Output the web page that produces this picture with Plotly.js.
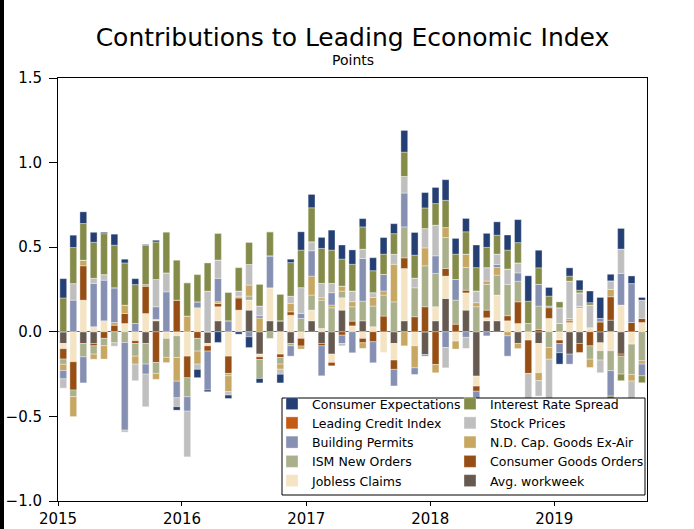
<!DOCTYPE html>
<html>
<head>
<meta charset="utf-8">
<script src="https://cdn.plot.ly/plotly-3.0.1.min.js"></script>
<style>html,body{margin:0;padding:0;background:#fff;}#chart{width:694px;height:529px;}</style>
</head>
<body>
<div id="chart"></div>
<script>
// Months: Jan 2015 .. Sep 2019 (57 months)
const months = [];
for (let i = 0; i < 57; i++) {
  const y = 2015 + Math.floor(i / 12);
  const m = (i % 12) + 1;
  months.push(y + '-' + (m < 10 ? '0' + m : m) + '-01');
}
const yTicks = [-1.0, -0.5, 0.0, 0.5, 1.0, 1.5];

// Series values (points), stacked from zero outward in this order
const avgWorkweek = [-0.069,0,-0.069,-0.069,0,0,0,0,-0.069,0.065, 0,0,0,0,-0.069,0.065,0,0,0.128,-0.132, 0.065,0.065,-0.069,0,0.065,-0.069,-0.132,0.128,0,0.065, 0,0,-0.069,0.065,0,-0.134,0.065,0.197,0,0.128, -0.262,0.065,0.065,0,-0.069,0,-0.069,0,0,-0.132, -0.069,0,-0.065,0.069,-0.132,0,0];
const joblessClaims = [-0.031,-0.177,0.187,0.03,0.065,0,0.049,-0.053,0.108,0.008, -0.039,-0.024,-0.144,0.142,-0.014,0.083,-0.144,0.128,0.059,-0.016, 0.195,-0.132,0.098,-0.039,0.063,0.02,-0.049,0.073,0.035,-0.039, 0.03,-0.122,-0.098,0.309,-0.083,0,0.083,0.132,-0.055,0.102, -0.059,0.018,0.152,0.065,0.049,-0.049,-0.173,0.079,-0.049,0.055, 0.14,0.024,-0.047,-0.112,0.158,-0.073,0.055];
const consumerGoodsOrders = [-0.061,-0.167,0.203,-0.014,-0.039,0.039,0.059,-0.016,0.161,-0.181, 0,0.187,-0.128,-0.039,-0.031,0.02,-0.102,0.073,0,-0.016, 0,-0.02,0.02,-0.045,0,-0.014,-0.02,-0.02,0.028,-0.026, -0.059,0.093,-0.055,0.063,0.089,0.148,-0.193,0.045,0.045,0.016, -0.03,0.045,0,0.03,0.128,-0.197,0.014,0.063,-0.02,0.01, -0.053,-0.083,0.059,0.138,-0.012,0.055,0.024];
const ismNewOrders = [-0.031,-0.039,-0.079,-0.049,-0.043,-0.065,-0.063,-0.075,-0.122,-0.065, -0.112,-0.128,-0.112,-0.075,0,0,-0.014,0,0.024,-0.112, -0.039,-0.039,-0.014,0.079,0.089,0.167,0.142,0.039,0.085,0.116, 0.122,0.124,0.177,0.183,0.171,0.242,0.197,0.183,0.142,0.134, 0.148,0.152,0.118,0.185,0.122,0.049,0.138,-0.093,0.049,0, 0,-0.079,-0.055,-0.118,-0.106,-0.179,-0.171];
const ndCapGoods = [-0.037,-0.118,0.033,-0.03,-0.079,0.016,0.049,-0.047,0.01,-0.035, -0.031,-0.14,0.093,-0.077,0,0.01,-0.094,0.01,0.065,0.081, 0,-0.03,0.049,-0.018,0.112,0.014,0.016,0.03,0.03,-0.033, 0.051,0.024,0.222,-0.083,-0.13,0.106,-0.049,0.059,-0.047,0.079, 0.024,0.02,0.045,-0.024,-0.03,0,-0.047,-0.069,0,0.014, 0.01,-0.049,0,0.043,0,-0.039,-0.02];
const buildingPermits = [-0.049,0.187,-0.154,0.256,0.24,0.205,-0.518,0.049,-0.059,0.075, 0.236,-0.098,-0.085,0.035,-0.23,0.138,0.065,0,-0.03,0.014, 0.189,0,-0.061,0.03,0.15,-0.177,0.073,-0.049,-0.124,0.252, -0.124,0.098,-0.098,0.2,-0.039,-0.01,0.104,-0.093,0.122,-0.033, -0.142,-0.024,0.018,-0.12,0.049,0,0.128,0.01,-0.055,-0.059, 0,0,0.02,-0.15,0.187,0.23,-0.069];
const stockPrices = [-0.055,0.098,0,0.03,0.033,-0.02,-0.012,-0.098,-0.193,0.161, 0.112,-0.053,-0.27,-0.031,0.24,0.108,-0.02,0.03,0.122,0.057, 0,-0.03,0.043,0.152,0.053,0.085,0.055,-0.014,0.063,0.055, 0.028,0,0.059,0.098,0.057,0.114,0.181,-0.12,0,-0.065, 0.069,0.079,0.061,0.091,0.059,-0.161,-0.091,-0.232,0.093,0.22, 0.08,0.134,-0.075,0.051,0.144,-0.138,0.108];
const leadingCreditIndex = [0,0,0,0,0,0,0,0,0,0, 0,0,0,0,0,0,0,0,0,0, 0,0,0,0,0,0,0,0,0,0, 0,0,0,0,0,0,0,0,0,0, 0,0,0,0,0,0,0,0,0,0, 0,0,0,0,0,0,0];
const interestRateSpread = [0.20,0.213,0.217,0.213,0.242,0.252,0.25,0.23,0.232,0.222, 0.242,0.236,0.197,0.161,0.167,0.157,0.167,0.138,0.13,0.128, 0.142,0.156,0.199,0.222,0.201,0.207,0.197,0.16,0.158,0.132, 0.13,0.12,0.122,0.144,0.136,0.122,0.128,0.161,0.15,0.132, 0.138,0.12,0.112,0.112,0.12,0.132,0.098,0.059,0.035,0.03, 0.016,0.014,0,-0.043,-0.039,-0.053,-0.041];
const consumerExpectations = [0.114,0.073,0.069,0.059,0.008,0.065,0.022,0.035,0.005,0.01, 0,-0.02,0,-0.049,-0.01,-0.063,-0.02,-0.014,-0.063,-0.026, 0,-0.051,0.02,0.108,0.079,0.065,0.118,0.083,0.085,0.049, 0.077,0.098,0.059,0.128,0.134,0.091,0.095,0.122,0.093,0.079, 0.134,0.083,0.079,0.089,0.136,0.15,0.104,0.051,-0.067,0.049, 0.059,0.069,0.124,0.039,0.122,0.045,0.016];

const seriesNames = ['Avg. workweek','Jobless Claims','Consumer Goods Orders','ISM New Orders','N.D. Cap. Goods Ex-Air','Building Permits','Stock Prices','Leading Credit Index','Interest Rate Spread','Consumer Expectations'];
const seriesValues = [avgWorkweek, joblessClaims, consumerGoodsOrders, ismNewOrders, ndCapGoods, buildingPermits, stockPrices, leadingCreditIndex, interestRateSpread, consumerExpectations];
const seriesColors = ['#665a50','#f4e4c3','#964e14','#a9b08b','#c8a763','#8590b3','#bfbfbf','#c55a11','#858c4a','#243f74'];
const seriesLegend = ['legend2','legend','legend2','legend','legend2','legend','legend2','legend','legend2','legend'];

const FONT = 'DejaVu Sans, Verdana, sans-serif';

const traces = seriesNames.map((n, k) => ({
  type: 'bar',
  name: n,
  x: months,
  y: seriesValues[k],
  xperiod: 'M1',
  xperiodalignment: 'middle',
  legend: seriesLegend[k],
  marker: {color: seriesColors[k], line: {color: 'rgba(255,255,255,0.7)', width: 0.5}},
  hovertemplate: '%{x|%b %Y}: %{y:.2f}<extra>' + n + '</extra>'
}));

const L = 58, R = 47, T = 78, B = 28, W = 694, H = 529;
const pw = W - L - R, ph = H - T - B;
const px = v => (v - L) / pw;
const py = v => (H - B - v) / ph;

const layout = {
  width: W, height: H,
  margin: {l: L, r: R, t: T, b: B, pad: 0},
  paper_bgcolor: '#ffffff', plot_bgcolor: '#ffffff',
  font: {family: FONT, color: '#000', size: 15},
  barmode: 'relative',
  bargap: 0.32,
  showlegend: true,
  title: {text: 'Contributions to Leading Economic Index', font: {family: FONT, size: 25, color: '#000'},
          x: 0.5, xref: 'paper', xanchor: 'center', y: 1 - 37 / H, yref: 'container', yanchor: 'middle'},
  xaxis: {
    type: 'date', range: ['2015-01-01', '2019-10-01'],
    tick0: '2015-01-01', dtick: 'M12', tickformat: '%Y',
    ticks: 'outside', ticklen: 4, tickwidth: 1, tickcolor: '#000',
    showline: true, linecolor: '#000', linewidth: 1, mirror: true,
    showgrid: false, zeroline: false,
    tickfont: {family: FONT, size: 15, color: '#000'}
  },
  yaxis: {
    range: [-1, 1.5], tickvals: yTicks, tickformat: '.1f',
    ticks: 'outside', ticklen: 8, tickwidth: 1, tickcolor: '#000', ticklabelstandoff: 4,
    showline: true, linecolor: '#000', linewidth: 1, mirror: true,
    showgrid: false, zeroline: true, zerolinecolor: '#6e6e6e', zerolinewidth: 1.3,
    layer: 'above traces',
    tickfont: {family: FONT, size: 15, color: '#000'}
  },
  yaxis2: {
    overlaying: 'y', side: 'right', anchor: 'x',
    range: [-1, 1.5], tickvals: yTicks, tickformat: '.1f',
    ticks: 'outside', ticklen: 8, tickwidth: 1, tickcolor: '#000',
    showline: false, showgrid: false, zeroline: false,
    tickfont: {family: FONT, size: 15, color: '#000'}
  },
  legend: {
    x: px(272), xanchor: 'left', y: py(496), yanchor: 'bottom',
    bgcolor: 'rgba(0,0,0,0)', borderwidth: 0, traceorder: 'reversed',
    itemwidth: 30, font: {family: FONT, size: 12.5, color: '#000'}
  },
  legend2: {
    x: px(450), xanchor: 'left', y: py(496), yanchor: 'bottom',
    bgcolor: 'rgba(0,0,0,0)', borderwidth: 0, traceorder: 'reversed',
    itemwidth: 30, font: {family: FONT, size: 12.5, color: '#000'}
  },
  shapes: [
    {type: 'rect', xref: 'paper', yref: 'paper', x0: px(282), x1: px(645), y0: py(495), y1: py(398),
     fillcolor: '#ffffff', line: {color: '#000', width: 1}, layer: 'above'},
    {type: 'rect', xref: 'paper', yref: 'paper', x0: px(0), x1: px(4), y0: py(H), y1: py(0),
     fillcolor: '#000', line: {width: 0}, layer: 'above'}
  ],
  annotations: [
    {text: 'Points', xref: 'paper', yref: 'paper', x: 0.5, y: py(60), xanchor: 'center', yanchor: 'middle',
     showarrow: false, font: {family: FONT, size: 14, color: '#000'}}
  ]
};

Plotly.newPlot('chart', traces, layout, {displayModeBar: false, staticPlot: true});
</script>
</body>
</html>
